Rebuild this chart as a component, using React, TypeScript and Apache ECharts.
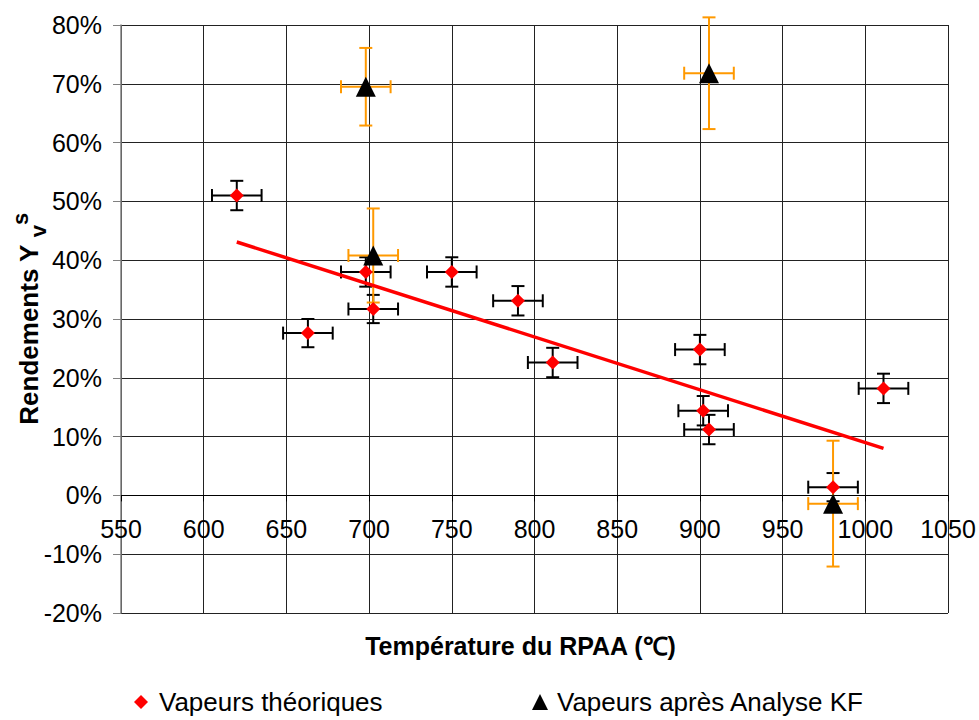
import React, { useEffect, useRef } from "react";
import * as echarts from "echarts";

// Série "Vapeurs théoriques" (rouge, losanges)
const redX = [620, 663, 698, 702.5, 750, 790, 811, 900, 902, 905.5, 980.5, 1011];
const redY = [51.0, 27.6, 38.0, 31.7, 38.0, 33.1, 22.6, 24.8, 14.4, 11.2, 1.4, 18.2];
const redXErr = [15, 15, 15, 15, 15, 15, 15, 15, 15, 15, 15, 15];
const redYErr = [2.5, 2.4, 2.5, 2.4, 2.5, 2.5, 2.5, 2.5, 2.5, 2.5, 2.4, 2.5];

// Série "Vapeurs après Analyse KF" (noir, triangles, barres orange)
const triX = [698, 702.5, 905.5, 980.5];
const triY = [69.5, 40.8, 71.8, -1.4];
const triXErr = [15, 15, 15, 15];
const triYErr = [6.6, 8.0, 9.5, 10.7];

// Droite de tendance (extrémités)
const trendX = [620, 1011];
const trendY = [43.1, 8.0];

const Y_MIN = -20;
const Y_MAX = 80;
const GRID_TOP = 25;
const GRID_BOTTOM = 107;
const CHART_H = 720;

const FONT = "'Liberation Sans', Arial, sans-serif";

function errorBars(name: string, xs: number[], ys: number[], exs: number[], eys: number[], color: string) {
  return {
    type: "custom",
    name,
    silent: true,
    z: 2,
    data: xs.map((x, i) => [x, ys[i], exs[i], eys[i]]),
    encode: { x: 0, y: 1 },
    renderItem: (_params: any, api: any) => {
      const x = api.value(0);
      const y = api.value(1);
      const ex = api.value(2);
      const ey = api.value(3);
      const top = api.coord([x, y + ey]);
      const bot = api.coord([x, y - ey]);
      const left = api.coord([x - ex, y]);
      const right = api.coord([x + ex, y]);
      const cap = 6.5;
      const style = { stroke: color, lineWidth: 2 };
      const ln = (x1: number, y1: number, x2: number, y2: number) => ({
        type: "line",
        shape: { x1, y1, x2, y2 },
        style,
      });
      return {
        type: "group",
        children: [
          ln(top[0], top[1], bot[0], bot[1]),
          ln(top[0] - cap, top[1], top[0] + cap, top[1]),
          ln(bot[0] - cap, bot[1], bot[0] + cap, bot[1]),
          ln(left[0], left[1], right[0], right[1]),
          ln(left[0], left[1] - cap, left[0], left[1] + cap),
          ln(right[0], right[1] - cap, right[0], right[1] + cap),
        ],
      };
    },
  };
}

export default function App() {
  const ref = useRef<HTMLDivElement>(null);

  useEffect(() => {
    const chart = echarts.init(ref.current!, null, { renderer: "svg" });
    // the x axis sits on the 0% line: shift it up from the grid bottom
    const plotH = CHART_H - GRID_TOP - GRID_BOTTOM;
    const zeroOffset = -((0 - Y_MIN) / (Y_MAX - Y_MIN)) * plotH;
    const option: any = {
      animation: false,
      backgroundColor: "#ffffff",
      textStyle: { fontFamily: FONT, color: "#000" },
      grid: { left: 121, right: 31, top: GRID_TOP, bottom: GRID_BOTTOM, containLabel: false, outerBoundsMode: "none" },
      legend: [
        {
          data: ["Vapeurs théoriques"],
          left: 134,
          top: 689,
          padding: 0,
          itemWidth: 14,
          itemHeight: 14,
          textStyle: { fontSize: 26, color: "#000", fontFamily: FONT, padding: [0, 0, 0, 6] },
        },
        {
          data: ["Vapeurs après Analyse KF"],
          left: 532,
          top: 689,
          padding: 0,
          itemWidth: 16,
          itemHeight: 16,
          textStyle: { fontSize: 26, color: "#000", fontFamily: FONT, padding: [0, 0, 0, 4] },
        },
      ],
      xAxis: {
        type: "value",
        position: "bottom",
        offset: zeroOffset,
        min: 550,
        max: 1050,
        interval: 50,
        name: "Température du RPAA (℃)",
        nameLocation: "middle",
        nameGap: 138,
        nameMoveOverlap: false,
        nameTextStyle: { fontSize: 25, fontWeight: "bold", color: "#000", fontFamily: FONT, padding: [0, 28, 0, 0] },
        axisLine: { show: true, onZero: false, lineStyle: { color: "#000", width: 1 } },
        axisTick: { show: true, length: 6, lineStyle: { color: "#000" } },
        axisLabel: {
          fontSize: 25,
          color: "#000",
          margin: 21,
          fontFamily: FONT,
          formatter: (v: number) => String(v),
        },
        splitLine: { show: true, lineStyle: { color: "#222", width: 1 } },
      },
      yAxis: {
        type: "value",
        min: Y_MIN,
        max: Y_MAX,
        interval: 10,
        name: "{a|Rendements Y }{b|v}{c|s}",
        nameLocation: "middle",
        nameRotate: 90,
        nameGap: 72,
        nameMoveOverlap: false,
        nameTextStyle: {
          fontFamily: FONT,
          color: "#000",
          rich: {
            a: { fontSize: 26, fontWeight: "bold", fontFamily: FONT, color: "#000", lineHeight: 40 },
            b: { fontSize: 22, fontWeight: "bold", fontFamily: FONT, color: "#000", verticalAlign: "bottom", lineHeight: 22 },
            c: { fontSize: 22, fontWeight: "bold", fontFamily: FONT, color: "#000", verticalAlign: "top", lineHeight: 22 },
          },
        },
        axisLine: { show: true, onZero: false, lineStyle: { color: "#808080", width: 1.5 } },
        axisTick: { show: true, length: 8, lineStyle: { color: "#808080" } },
        axisLabel: {
          formatter: (v: number) => v + "%",
          fontSize: 25,
          color: "#000",
          margin: 19,
          fontFamily: FONT,
        },
        splitLine: { show: true, lineStyle: { color: "#222", width: 1 } },
      },
      series: [
        errorBars("errRed", redX, redY, redXErr, redYErr, "#000000"),
        errorBars("errTri", triX, triY, triXErr, triYErr, "#FF9900"),
        {
          type: "line",
          name: "Tendance",
          data: trendX.map((x, i) => [x, trendY[i]]),
          showSymbol: false,
          symbol: "none",
          lineStyle: { color: "#FF0000", width: 3.5 },
          z: 3,
          silent: true,
        },
        {
          type: "scatter",
          name: "Vapeurs théoriques",
          data: redX.map((x, i) => [x, redY[i]]),
          symbol: "diamond",
          symbolSize: 14,
          itemStyle: { color: "#FF0000", opacity: 1 },
          z: 4,
        },
        {
          type: "scatter",
          name: "Vapeurs après Analyse KF",
          data: triX.map((x, i) => [x, triY[i]]),
          symbol: "triangle",
          symbolSize: 20,
          itemStyle: { color: "#000000", opacity: 1 },
          z: 5,
        },
      ],
    };
    chart.setOption(option);
    return () => chart.dispose();
  }, []);

  return (
    <div
      ref={ref}
      style={{ position: "fixed", left: 0, top: 0, width: 979, height: 720, background: "#fff" }}
    />
  );
}
